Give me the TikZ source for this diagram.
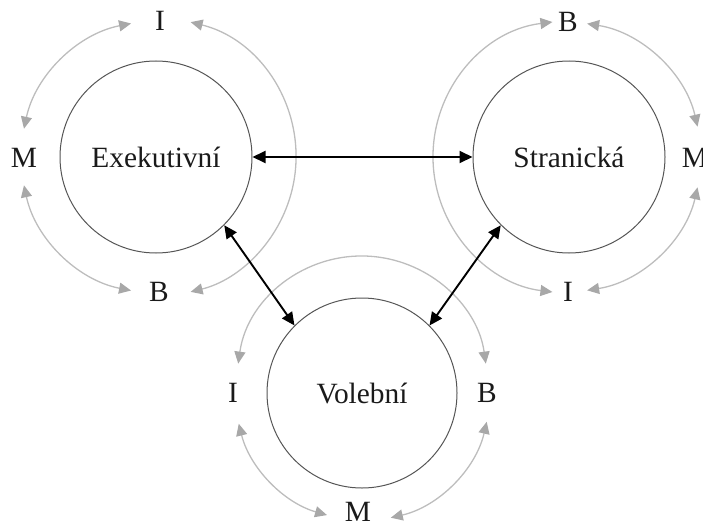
\documentclass[tikz,border=0pt]{standalone}
\usepackage{fontspec}
\setmainfont{Liberation Serif}
\usetikzlibrary{arrows.meta,calc}
\definecolor{arcgray}{HTML}{BDBDBD}
\definecolor{tipgray}{HTML}{A8A8A8}
\definecolor{ringgray}{HTML}{555555}
\definecolor{txt}{HTML}{1A1A1A}
\tikzset{
  hub/.style={circle,draw=ringgray,line width=1pt,minimum size=192pt,inner sep=0pt,
    text=txt,font=\fontsize{29.4}{35}\selectfont},
  lab/.style={inner sep=0pt,text=txt,font=\fontsize{29.4}{35}\selectfont},
  garc/.style={draw=arcgray,line width=1.3pt,
    {Triangle[length=12pt,width=11pt,color=tipgray]}-{Triangle[length=12pt,width=11pt,color=tipgray]}},
  link/.style={draw=black,line width=1.9pt,
    {Triangle[length=13pt,width=12pt]}-{Triangle[length=13pt,width=12pt]}}
}
\begin{document}
\begin{tikzpicture}[x=1pt,y=1pt]
\useasboundingbox (0,0) rectangle (703,-527);
% hubs
\node[hub] (E) at (156,-157) {Exekutivní};
\node[hub] (S) at (569,-157) {Stranická};
\node[hub,minimum size=190pt] (V) at (362,-393) {Volební};
% labels
\node[lab] (EI) at (160,-21) {I};
\node[lab] (EM) at (24,-158) {M};
\node[lab] (EB) at (159,-292) {B};
\node[lab] (SB) at (568,-22) {B};
\node[lab] (SM) at (695,-158) {M};
\node[lab] (SI) at (568,-292) {I};
\node[lab] (VI) at (233,-393) {I};
\node[lab] (VB) at (487,-393) {B};
\node[lab] (VM) at (358,-512) {M};
% Exekutivni arcs
\coordinate (EC) at (157,-157);
\draw[garc] ($(EC)+(101:136pt)$) arc[start angle=101,end angle=168,radius=136pt];
\draw[garc] ($(EC)+(76:139pt)$) arc[start angle=76,end angle=-76,radius=139pt];
\draw[garc] ($(EC)+(192:136pt)$) arc[start angle=192,end angle=259,radius=136pt];
% Stranicka arcs
\coordinate (SC) at (569,-157);
\coordinate (SC2) at (566,-157);
\draw[garc] ($(SC)+(97:136pt)$) arc[start angle=97,end angle=263,radius=136pt];
\draw[garc] ($(SC2)+(81:135pt)$) arc[start angle=81,end angle=13,radius=135pt];
\draw[garc] ($(SC2)+(-13:135pt)$) arc[start angle=-13,end angle=-81,radius=135pt];
% Volebni arcs
\coordinate (VC) at (362,-393);
\coordinate (VC2) at (362,-381);
\draw[garc] ($(VC2)+(172:125pt)$) arc[start angle=172,end angle=8,radius=125pt];
\draw[garc] ($(VC)+(194:127pt)$) arc[start angle=194,end angle=254,radius=127pt];
\draw[garc] ($(VC)+(283:128pt)$) arc[start angle=283,end angle=347,radius=128pt];
% black links
\draw[link] (E) -- (S);
\draw[link] (E.-45) -- (V.135);
\draw[link] (S.225) -- (V.45);
\end{tikzpicture}
\end{document}
